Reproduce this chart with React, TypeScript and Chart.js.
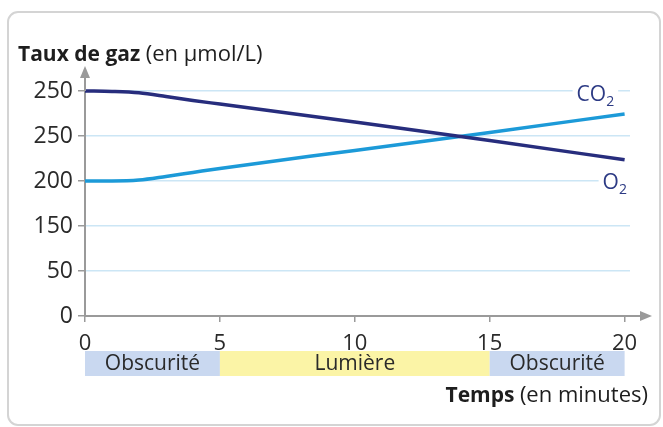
import React, { useEffect, useRef } from "react";
import { Chart, registerables } from "chart.js";

Chart.register(...registerables);

const minutes = [0, 1, 2, 3, 4, 5, 10, 15, 20];
const o2Values = [5.0, 4.99, 4.96, 4.88, 4.79, 4.71, 4.31, 3.9, 3.47];
const co2Values = [3.0, 3.0, 3.02, 3.1, 3.19, 3.28, 3.68, 4.08, 4.49];
const yTickLabels = ["0", "50", "150", "200", "250", "250"];
const xTickValues = [0, 5, 10, 15, 20];
const periods = [
  { from: 0, to: 5, label: "Obscurité", color: "#c9d8f0" },
  { from: 5, to: 15, label: "Lumière", color: "#fbf4a6" },
  { from: 15, to: 20, label: "Obscurité", color: "#c9d8f0" },
];

const FONT = "'Open Sans', 'DejaVu Sans', sans-serif";
const TEXT = "#2a2a2a";
const AXIS = "#9a9a9a";

const decorPlugin = {
  id: "decor",
  beforeDraw(chart: any) {
    const ctx = chart.ctx;
    ctx.save();
    ctx.fillStyle = "#fff";
    ctx.fillRect(0, 0, chart.width, chart.height);
    ctx.strokeStyle = "#d4d4d4";
    ctx.lineWidth = 2;
    ctx.beginPath();
    (ctx as any).roundRect(8, 12, 652, 413, 10);
    ctx.stroke();
    ctx.restore();
  },
  beforeDatasetsDraw(chart: any) {
    const ctx = chart.ctx;
    const xs = chart.scales.x;
    const ys = chart.scales.y;
    ctx.save();
    const drawLabel = (x: number, y: number, main: string, color: string) => {
      ctx.font = `21px ${FONT}`;
      const w1 = ctx.measureText(main).width;
      ctx.font = `14px ${FONT}`;
      const w2 = ctx.measureText("2").width;
      ctx.fillStyle = "#fff";
      ctx.fillRect(x - 4, y - 13, w1 + w2 + 8, 28);
      ctx.fillStyle = color;
      ctx.textBaseline = "middle";
      ctx.textAlign = "left";
      ctx.font = `21px ${FONT}`;
      ctx.fillText(main, x, y);
      ctx.font = `14px ${FONT}`;
      ctx.fillText("2", x + w1, y + 7);
    };
    const n = minutes.length - 1;
    drawLabel(xs.getPixelForValue(minutes[n]) - 48, ys.getPixelForValue(co2Values[n]) - 19, "CO", "#2c3a84");
    drawLabel(xs.getPixelForValue(minutes[n]) - 22, ys.getPixelForValue(o2Values[n]) + 23, "O", "#2c3a84");
    ctx.restore();
  },
  afterDraw(chart: any) {
    const ctx = chart.ctx;
    const xs = chart.scales.x;
    const ys = chart.scales.y;
    const area = chart.chartArea;
    ctx.save();
    const x0 = xs.getPixelForValue(0);
    const y0 = ys.getPixelForValue(0);
    ctx.strokeStyle = AXIS;
    ctx.fillStyle = AXIS;
    ctx.lineWidth = 2;
    ctx.beginPath();
    ctx.moveTo(x0, area.top);
    ctx.lineTo(x0, 74);
    ctx.stroke();
    ctx.beginPath();
    ctx.moveTo(x0, 66);
    ctx.lineTo(x0 - 5, 78);
    ctx.lineTo(x0 + 5, 78);
    ctx.closePath();
    ctx.fill();
    ctx.beginPath();
    ctx.moveTo(area.right, y0);
    ctx.lineTo(643, y0);
    ctx.stroke();
    ctx.beginPath();
    ctx.moveTo(652, y0);
    ctx.lineTo(640, y0 - 5);
    ctx.lineTo(640, y0 + 5);
    ctx.closePath();
    ctx.fill();

    // title
    ctx.fillStyle = "#1e1e1e";
    ctx.textBaseline = "alphabetic";
    ctx.textAlign = "left";
    ctx.font = `bold 21px ${FONT}`;
    const t1 = "Taux de gaz ";
    ctx.fillText(t1, 18, 61);
    const w = ctx.measureText(t1).width;
    ctx.font = `22px ${FONT}`;
    ctx.fillText("(en µmol/L)", 18 + w, 61);

    // period band
    const bandTop = 351;
    const bandH = 25;
    periods.forEach((p) => {
      const a = xs.getPixelForValue(p.from);
      const b = xs.getPixelForValue(p.to);
      ctx.fillStyle = p.color;
      ctx.fillRect(a, bandTop, b - a, bandH);
      ctx.fillStyle = TEXT;
      ctx.font = `21px ${FONT}`;
      ctx.textAlign = "center";
      ctx.textBaseline = "middle";
      ctx.fillText(p.label, (a + b) / 2, bandTop + bandH / 2 + 1);
    });

    // x axis title
    ctx.textAlign = "left";
    ctx.textBaseline = "middle";
    ctx.fillStyle = "#1e1e1e";
    ctx.font = `22px ${FONT}`;
    const t3 = "(en minutes)";
    const w3 = ctx.measureText(t3).width;
    ctx.font = `bold 21px ${FONT}`;
    const t2 = "Temps ";
    const w2 = ctx.measureText(t2).width;
    const right = 648;
    ctx.fillText(t2, right - w3 - w2, 396);
    ctx.font = `22px ${FONT}`;
    ctx.fillText(t3, right - w3, 396);
    ctx.restore();
  },
};

export default function App() {
  const ref = useRef<HTMLCanvasElement | null>(null);
  useEffect(() => {
    if (!ref.current) return;
    const chart = new Chart(ref.current, {
      type: "line",
      data: {
        datasets: [
          {
            label: "O2",
            data: minutes.map((m, i) => ({ x: m, y: o2Values[i] })),
            borderColor: "#272d7d",
            borderWidth: 3.5,
            pointRadius: 0,
            cubicInterpolationMode: "monotone",
            clip: false as any,
          },
          {
            label: "CO2",
            data: minutes.map((m, i) => ({ x: m, y: co2Values[i] })),
            borderColor: "#1c9ad8",
            borderWidth: 3.5,
            pointRadius: 0,
            cubicInterpolationMode: "monotone",
            clip: false as any,
          },
        ],
      },
      options: {
        responsive: false,
        animation: false,
        devicePixelRatio: 1,
        layout: { padding: { top: 91, right: 33, left: 0, bottom: 0 } },
        plugins: { legend: { display: false }, tooltip: { enabled: false } },
        scales: {
          x: {
            type: "linear",
            min: 0,
            max: 20.2,
            afterBuildTicks: (s: any) => {
              s.ticks = xTickValues.map((v) => ({ value: v }));
            },
            afterFit: (s: any) => {
              s.height = 111;
            },
            grid: { drawOnChartArea: false, tickLength: 6, tickColor: AXIS, lineWidth: 1.5 },
            border: { color: AXIS, width: 2 },
            ticks: {
              color: TEXT,
              font: { family: FONT, size: 22 },
              padding: 9,
              maxRotation: 0,
              autoSkip: false,
              callback: (v: any) => String(v),
            },
          },
          y: {
            type: "linear",
            min: 0,
            max: 5,
            afterBuildTicks: (s: any) => {
              s.ticks = yTickLabels.map((_, i) => ({ value: i }));
            },
            afterFit: (s: any) => {
              s.width = 85;
            },
            grid: { color: "#cce6f5", lineWidth: 1.5, tickLength: 7, tickColor: AXIS },
            border: { color: AXIS, width: 2 },
            ticks: {
              color: TEXT,
              font: { family: FONT, size: 23 },
              padding: 5,
              callback: (v: any) => yTickLabels[v] ?? "",
            },
          },
        },
      },
      plugins: [decorPlugin],
    } as any);
    return () => chart.destroy();
  }, []);
  return (
    <div style={{ position: "fixed", left: 0, top: 0, width: 663, height: 427 }}>
      <canvas ref={ref} width={663} height={427} style={{ display: "block" }} />
    </div>
  );
}
